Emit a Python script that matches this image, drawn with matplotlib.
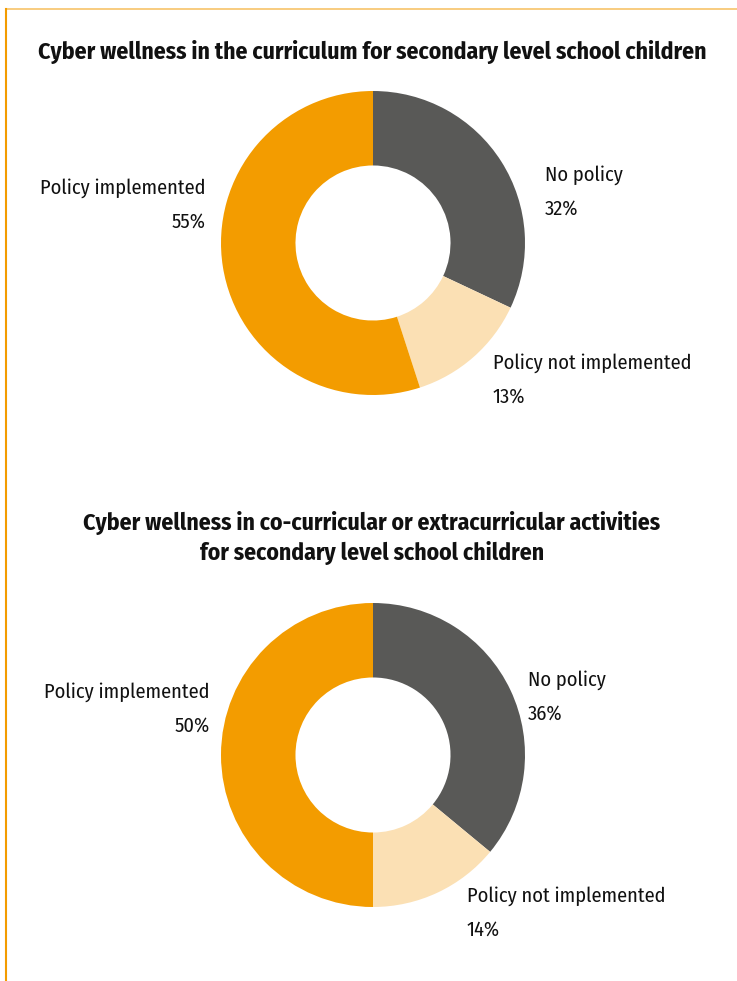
import matplotlib.pyplot as plt
from matplotlib.lines import Line2D

W, H = 737, 981

# data
labels = ['No policy', 'Policy not implemented', 'Policy implemented']
curriculum = [32, 13, 55]
cocurricular = [36, 14, 50]
colors = ['#595957', '#FBE0B4', '#F39C00']

title1 = 'Cyber wellness in the curriculum for secondary level school children'
title2 = 'Cyber wellness in co-curricular or extracurricular activities\nfor secondary level school children'

# condensed face, close to the original's Myriad Condensed
plt.rcParams['font.family'] = ['Fira Sans Condensed', 'PT Sans Narrow', 'Roboto Condensed', 'DejaVu Sans']

fig = plt.figure(figsize=(W / 100, H / 100), dpi=100)

# orange frame lines top and left
fig.add_artist(Line2D([6 / W, 1], [1 - 9 / H, 1 - 9 / H], transform=fig.transFigure, color='#F7C46A', lw=1.2))
fig.add_artist(Line2D([6 / W, 6 / W], [1 - 9 / H, 0], transform=fig.transFigure, color='#F39C00', lw=1.5))


def donut(cx, cy, r, values):
    ax = fig.add_axes([(cx - r) / W, 1 - (cy + r) / H, 2 * r / W, 2 * r / H])
    ax.pie(values, colors=colors, startangle=90, counterclock=False, radius=1,
           wedgeprops=dict(width=0.49, linewidth=0))
    ax.set_xlim(-1, 1)
    ax.set_ylim(-1, 1)
    ax.set_aspect('equal')
    ax.axis('off')
    return ax


def px(x, y):
    return x / W, 1 - y / H


lab_kw = dict(fontsize=14.7, color='#111111', va='top', linespacing=1.9)
title_kw = dict(ha='center', va='center', fontsize=17, fontweight='bold', color='#111111')

# chart 1
fig.text(*px(372, 52), title1, **title_kw)
donut(373, 243, 152, curriculum)
fig.text(*px(545, 165), f'{labels[0]}\n{curriculum[0]}%', ha='left', **lab_kw)
fig.text(*px(493, 353), f'{labels[1]}\n{curriculum[1]}%', ha='left', **lab_kw)
fig.text(*px(206, 178), f'{labels[2]}\n{curriculum[2]}%', ha='right', multialignment='right', **lab_kw)

# chart 2
fig.text(*px(372, 538), title2, linespacing=1.3, **title_kw)
donut(373, 755, 152, cocurricular)
fig.text(*px(528, 670), f'{labels[0]}\n{cocurricular[0]}%', ha='left', **lab_kw)
fig.text(*px(467, 886), f'{labels[1]}\n{cocurricular[1]}%', ha='left', **lab_kw)
fig.text(*px(210, 682), f'{labels[2]}\n{cocurricular[2]}%', ha='right', multialignment='right', **lab_kw)

fig.savefig('out.png', dpi=100, facecolor='white')
